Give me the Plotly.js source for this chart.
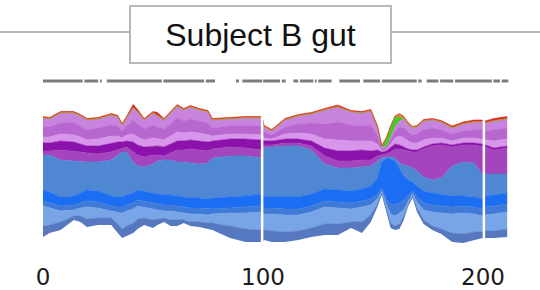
<!DOCTYPE html>
<html>
<head>
<meta charset="utf-8">
<script src="https://cdn.plot.ly/plotly-3.0.1.min.js"></script>
<style>html,body{margin:0;padding:0;background:#fff;}#chart{width:540px;height:290px;}</style>
</head>
<body>
<div id="chart"></div>
<script>
// Sampling days (x axis)
var days = [0,3,8,14,17,20,25,31,34,36,38,41,43,46,50,52,55,58,61,64,67,71,75,77,85,92,99.5,
  100.5,104,110,116,122,128,134,140,145,149,152,154,156,158,160,162,164,166,168,170,173,177,181,186,191,196,199.8,201,205,211];

// Stream baseline (bottom edge of the stack)
var baseline = [18,22,25,35,33,28,30,30,22,17,19,22,26,30,27,30,33,29,29,32,29,28,26,25,17,13,13,
  15,13,13,15,18,20,20,27,22,33,48,60,43,27,25,26,35,49,57,43,31,25,21,13,12,15,17,17,17,18];

// Layer abundances, bottom to top
var taxonSteel = [11,8,8,4,6,8,7,7,9,9,10,10,10,7,8,6,4,6,6,3,4,5,6,7,12,13,12,
  10,11,10,9,9,11,11,6,11,7,3,2,4,5,4,5,4,2,2,4,4,4,5,9,9,8,6,7,7,8];
var taxonLightBlue = [20,17,11,6,8,12,10,7,12,16,15,14,13,11,11,9,7,9,8,7,8,8,8,9,13,16,18,
  16,17,17,16,16,17,16,13,15,10,5,2,4,9,10,11,6,3,2,6,10,14,16,19,21,18,16,16,17,17];
var taxonDarkBlue = [5,5,5,5,5,6,6,5,5,6,6,6,6,6,6,6,6,6,6,6,6,6,6,5,5,6,6,
  6,6,6,6,6,6,6,6,6,6,5,3,5,10,11,10,10,5,3,5,7,7,7,7,7,7,7,8,8,8];
var taxonBrightBlue = [11,11,9,9,10,11,11,10,10,10,10,10,10,10,10,10,10,10,10,10,10,10,10,11,11,11,12,
  11,11,12,12,12,12,12,12,12,13,16,26,40,45,44,35,24,16,9,11,12,12,12,11,10,10,10,11,11,11];
var taxonBlue = [35,37,37,35,31,28,29,36,42,45,43,31,24,24,29,33,35,35,34,35,35,34,36,40,41,40,36,
  49,50,51,51,44,25,22,23,22,20,17,4,2,2,3,5,11,14,14,15,14,13,16,30,34,34,24,22,21,19];
var taxonPurple = [4,4,10,10,10,9,8,8,5,4,5,10,11,10,9,6,4,7,12,12,14,14,12,9,9,8,8,
  3,2,3,3,4,8,7,7,7,6,5,3,3,5,9,14,15,15,16,19,28,34,33,19,17,18,29,27,24,26];
var taxonDarkPurple = [8,8,9,9,8,7,8,9,8,6,6,10,10,10,9,9,9,9,9,9,9,9,9,8,8,9,10,
  4,4,4,4,5,8,10,10,10,9,6,3,3,5,5,4,3,2,2,2,2,2,2,2,2,2,2,2,2,2];
var taxonPink = [6,6,7,7,7,6,7,7,6,4,6,8,8,7,8,7,7,8,9,8,8,8,7,5,5,5,5,
  3,2,5,6,7,9,11,10,9,10,6,1,1,3,6,9,9,8,7,7,7,6,5,4,5,5,5,5,7,7];
var taxonOrchid = [10,10,11,12,11,10,11,11,10,7,9,14,13,11,13,12,11,12,14,12,13,12,12,8,8,8,9,
  6,4,7,9,11,15,18,16,15,16,9,2,2,4,7,9,10,9,8,9,10,10,8,7,7,8,9,9,11,11];
var taxonLilac = [9,8,10,10,10,10,9,10,9,6,8,12,12,9,12,11,9,11,12,11,12,11,11,8,7,8,8,
  5,4,7,8,9,14,15,13,13,14,8,2,1,2,4,6,9,8,7,7,9,8,8,6,7,8,8,8,9,9];
var taxonGreen = [0,0,0,0,0,0,0,0,0,0,0,0,0,0,0,0,0,0,0,0,0,0,0,0,0,0,0,
  0,0,0,0,0,0,0,0,0,0,0,0,8,11,10,4,0,0,0,0,0,0,0,0,0,0,0,0,0,0];
var taxonOrange = [0.5,0.5,0.5,0.5,0.5,0.5,0.5,0.5,0.5,0.5,0.5,0.5,0.5,0.5,0.5,0.5,0.5,0.5,0.5,0.5,0.5,0.5,0.5,0.5,0.5,0.5,0.5,
  0.5,0.5,0.5,0.5,0.5,0.5,0.5,0.5,0.5,0.5,0.5,0.5,0.5,0.5,0.5,3,2,1,1,0.5,0.5,0.5,0.5,0.5,0.5,0.5,0.5,0.5,0.5,0.5];
var taxonRed = [1,1,1,1,1,1,1,1,1,1,1,3,2,1,1,3,1,1,1,1,1,1,1,1,1,1,1,
  1,1,1,1,1,1,1.5,1,1,1,1,1,0.5,0.5,0.5,0.5,0.5,0.5,0.5,1,1,1,1,1.5,1.5,1.5,1.5,1.5,2,2];

// Sampled-day runs shown as the grey dashed bar
var sampleRuns = [[0,18],[18.8,25.1],[25.9,26.7],[29,54],[54.7,73.2],[74,78.2],[87.7,89.1],[90.6,99.7],
  [100.1,107.7],[108.5,110.3],[113.8,116],[116.8,122.9],[123.6,124.4],[125.1,131.2],[134.7,144.1],
  [145.6,153.2],[154,169.9],[170.6,172.1],[174.4,179.7],[180.5,186.5],[187.3,204],[204.7,207.7],[208.5,211.5]];

var tickVals = [0,100,200];
var tickText = ['0','100','200'];
var titleText = 'Subject B gut';

var layers = [
  {y: taxonSteel, c: '#5678c0'},
  {y: taxonLightBlue, c: '#78a5e8'},
  {y: taxonDarkBlue, c: '#3e7ad6'},
  {y: taxonBrightBlue, c: '#1b6ef2'},
  {y: taxonBlue, c: '#4f87d2'},
  {y: taxonPurple, c: '#a445bd'},
  {y: taxonDarkPurple, c: '#8b12aa'},
  {y: taxonPink, c: '#d796ea'},
  {y: taxonOrchid, c: '#b867d0'},
  {y: taxonLilac, c: '#c783de'},
  {y: taxonGreen, c: '#44cc22'},
  {y: taxonOrange, c: '#e8803a'},
  {y: taxonRed, c: '#d42a1e'}
];

var traces = [{
  x: days, y: baseline, type: 'scatter', mode: 'lines', stackgroup: 's',
  fill: 'none', line: {width: 0, color: 'rgba(0,0,0,0)'}, hoverinfo: 'skip', showlegend: false
}];
layers.forEach(function(l){
  traces.push({
    x: days, y: l.y, type: 'scatter', mode: 'lines', stackgroup: 's', fill: 'tonexty',
    fillcolor: l.c, line: {width: 0.6, color: l.c}, hoverinfo: 'skip', showlegend: false
  });
});

var dx = [], dy = [];
sampleRuns.forEach(function(r){ dx.push(r[0], r[1], null); dy.push(174, 174, null); });
traces.push({x: dx, y: dy, type: 'scatter', mode: 'lines', line: {color: '#7c7c7c', width: 3},
  hoverinfo: 'skip', showlegend: false, connectgaps: false});

var layout = {
  width: 540, height: 290,
  margin: {l: 0, r: 0, t: 0, b: 35},
  paper_bgcolor: '#fff', plot_bgcolor: '#fff',
  showlegend: false,
  xaxis: {range: [-19.545, 225.909], showgrid: false, zeroline: false, showline: false,
    tickvals: tickVals, ticktext: tickText, ticks: '', ticklabelstandoff: 6,
    tickfont: {family: 'DejaVu Sans', size: 23, color: '#1a1a1a'}},
  yaxis: {range: [0, 255], showgrid: false, zeroline: false, showline: false, showticklabels: false},
  shapes: [
    {type: 'line', xref: 'paper', yref: 'paper', x0: 0, x1: 1, y0: (255-32)/255, y1: (255-32)/255,
      line: {color: '#b8b8b8', width: 2}},
    {type: 'line', xref: 'x', yref: 'y', x0: 99.6, x1: 99.6, y0: 8, y1: 150, line: {color: '#ffffff', width: 2.5}},
    {type: 'line', xref: 'x', yref: 'y', x0: 200.4, x1: 200.4, y0: 10, y1: 140, line: {color: '#ffffff', width: 2.5}}
  ],
  annotations: [{
    text: titleText, xref: 'paper', yref: 'paper', x: 260.5/540, y: (255-34.5)/255,
    xanchor: 'center', yanchor: 'middle', showarrow: false,
    font: {family: 'Liberation Sans', size: 32, color: '#111'},
    bgcolor: '#ffffff', bordercolor: '#b8b8b8', borderwidth: 2, borderpad: 0,
    width: 259, height: 55
  }]
};

Plotly.newPlot('chart', traces, layout, {displayModeBar: false, staticPlot: true});
</script>
</body>
</html>
